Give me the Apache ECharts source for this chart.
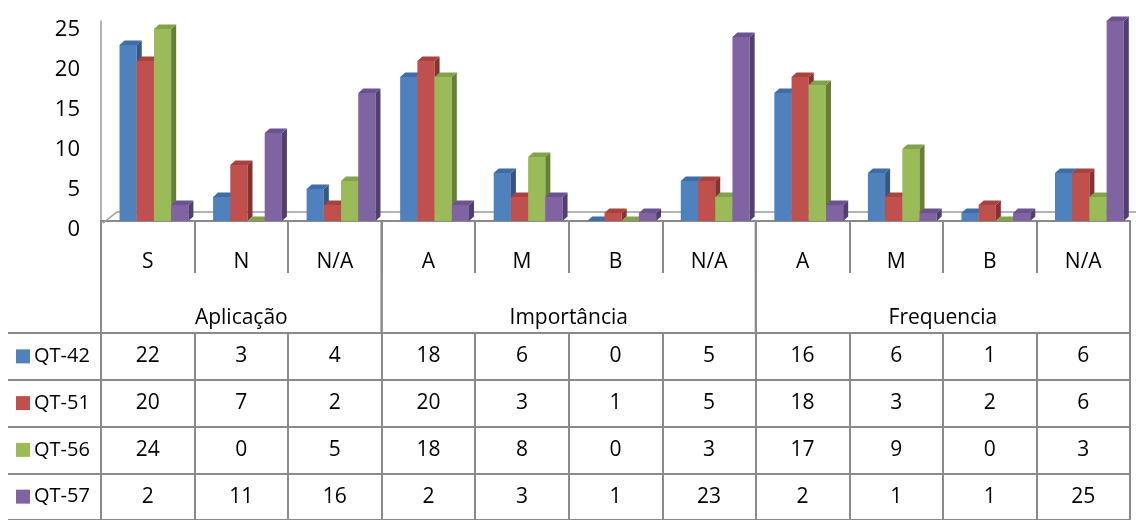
<!DOCTYPE html>
<html>
<head>
<meta charset="utf-8">
<script src="https://cdn.jsdelivr.net/npm/echarts@6/dist/echarts.min.js"></script>
<style>
html,body{margin:0;padding:0;background:#fff;}
#c{width:1136px;height:520px;}
</style>
</head>
<body>
<div id="c"></div>
<script>
// ---- data ----
const categories = ['S', 'N', 'N/A', 'A', 'M', 'B', 'N/A', 'A', 'M', 'B', 'N/A'];
const groupNames = ['Aplicação', 'Importância', 'Frequencia'];
const groupSizes = [3, 4, 4];
const seriesNames = ['QT-42', 'QT-51', 'QT-56', 'QT-57'];
const qt42 = [22, 3, 4, 18, 6, 0, 5, 16, 6, 1, 6];
const qt51 = [20, 7, 2, 20, 3, 1, 5, 18, 3, 2, 6];
const qt56 = [24, 0, 5, 18, 8, 0, 3, 17, 9, 0, 3];
const qt57 = [2, 11, 16, 2, 3, 1, 23, 2, 1, 1, 25];
const yTicks = [0, 5, 10, 15, 20, 25];

// ---- styling ----
const seriesValues = [qt42, qt51, qt56, qt57];
const front = ['#4F81BD', '#C0504D', '#9BBB59', '#8064A2'];
const topC = ['#3F6DA6', '#A8423F', '#83A24A', '#6B5290'];
const side = ['#345884', '#86332F', '#667F37', '#513F6F'];
const lineGray = '#8A8A8A';
const FONT = '"Open Sans", Lato, sans-serif';
const FS = 21;

const chart = echarts.init(document.getElementById('c'), null, {renderer: 'canvas'});

function barSeries(si) {
  return {
    type: 'custom',
    name: seriesNames[si],
    xAxisIndex: 0, yAxisIndex: 0,
    clip: false,
    data: seriesValues[si].map((v, i) => [i, v]),
    renderItem: function (params, api) {
      const idx = api.value(0);
      const val = api.value(1);
      const topP = api.coord([idx, val]);
      const baseP = api.coord([idx, 0]);
      const band = api.size([1, 0])[0];
      const w = band * 0.184;
      const left = topP[0] - band / 2 + band * 0.198 + si * w;
      const dx = 5, dy = 4.5;
      const t = topP[1], b = baseP[1];
      return {
        type: 'group',
        children: [
          {type: 'rect', shape: {x: left, y: t, width: w, height: b - t}, style: {fill: front[si]}},
          {type: 'polygon', shape: {points: [[left + w, t], [left + w + dx, t - dy], [left + w + dx, b - dy], [left + w, b]]}, style: {fill: side[si]}},
          {type: 'polygon', shape: {points: [[left, t], [left + dx, t - dy], [left + w + dx, t - dy], [left + w, t]]}, style: {fill: topC[si]}}
        ]
      };
    },
    z: 3
  };
}

// group starts built from sizes
const groupData = [];
let acc = 0;
groupSizes.forEach((s, g) => { groupData.push([acc, acc + s - 1, g]); acc += s; });

// table cells
const cellData = [];
seriesValues.forEach((arr, r) => arr.forEach((v, c) => cellData.push([c, r, v])));

const option = {
  animation: false,
  backgroundColor: '#ffffff',
  grid: [
    {left: 101, right: 6, top: 21, height: 200},
    {left: 101, right: 6, top: 333, height: 192}
  ],
  xAxis: [
    {
      gridIndex: 0, type: 'category', data: categories, boundaryGap: true,
      offset: 5,
      axisLine: {show: true, lineStyle: {color: lineGray, width: 2}},
      axisTick: {show: true, length: 52, lineStyle: {color: lineGray, width: 2}},
      axisLabel: {color: '#000', fontFamily: FONT, fontSize: FS, margin: 26}
    },
    {
      gridIndex: 1, type: 'category', data: categories, boundaryGap: true, position: 'top',
      axisLine: {show: true, lineStyle: {color: lineGray, width: 2}},
      axisTick: {show: false}, axisLabel: {show: false},
      splitLine: {show: true, lineStyle: {color: lineGray, width: 2}}
    }
  ],
  yAxis: [
    {
      gridIndex: 0, type: 'value', min: 0, max: 25, interval: 5,
      axisLine: {show: true, lineStyle: {color: '#9A9A9A', width: 1.5}},
      axisTick: {show: false},
      splitLine: {show: false},
      axisLabel: {color: '#000', fontFamily: FONT, fontSize: 22, margin: 21,
        verticalAlign: 'top', lineHeight: 18,
        formatter: v => (yTicks.indexOf(v) >= 0 ? String(v) : '')}
    },
    {
      gridIndex: 1, type: 'category', data: seriesNames, inverse: true, boundaryGap: true,
      axisLine: {show: true, lineStyle: {color: lineGray, width: 2}},
      axisTick: {show: true, length: 93, lineStyle: {color: lineGray, width: 2}},
      splitLine: {show: true, lineStyle: {color: lineGray, width: 2}},
      axisLabel: {
        align: 'left', margin: 85,
        formatter: (v, i) => '{k' + i + '|}{t|' + v + '}',
        rich: {
          k0: {backgroundColor: front[0], width: 14, height: 14},
          k1: {backgroundColor: front[1], width: 14, height: 14},
          k2: {backgroundColor: front[2], width: 14, height: 14},
          k3: {backgroundColor: front[3], width: 14, height: 14},
          t: {color: '#000', fontFamily: FONT, fontSize: 20, padding: [0, 0, 0, 4]}
        }
      }
    },
    {
      gridIndex: 1, type: 'category', data: seriesNames, offset: 93,
      axisLine: {show: true, lineStyle: {color: lineGray, width: 2}},
      axisTick: {show: false}, axisLabel: {show: false}, splitLine: {show: false}
    }
  ],
  series: [
    {
      type: 'custom', name: 'floor', xAxisIndex: 0, yAxisIndex: 0, clip: false,
      data: [[0, 0]],
      renderItem: function (params, api) {
        const band = api.size([1, 0])[0];
        const p0 = api.coord([0, 0]);
        const pN = api.coord([categories.length - 1, 0]);
        const x0 = p0[0] - band / 2;
        const xN = pN[0] + band / 2;
        const y0 = p0[1];
        return {
          type: 'polyline',
          shape: {points: [[x0 + 2, y0 + 2], [x0 + 16, y0 - 9], [xN + 6, y0 - 9]]},
          style: {stroke: '#9A9A9A', lineWidth: 1.5, fill: null}
        };
      },
      z: 1
    },
    barSeries(0), barSeries(1), barSeries(2), barSeries(3),
    {
      type: 'custom', name: 'groups', xAxisIndex: 0, yAxisIndex: 0, clip: false,
      data: groupData,
      renderItem: function (params, api) {
        const band = api.size([1, 0])[0];
        const s = api.value(0), e = api.value(1), g = api.value(2);
        const l = api.coord([s, 0])[0] - band / 2;
        const r = api.coord([e, 0])[0] + band / 2;
        const y0 = api.coord([s, 0])[1];
        return {
          type: 'group',
          children: [
            {type: 'line', shape: {x1: l, y1: y0, x2: l, y2: y0 + 112}, style: {stroke: lineGray, lineWidth: 2}},
            {type: 'line', shape: {x1: r, y1: y0, x2: r, y2: y0 + 112}, style: {stroke: lineGray, lineWidth: 2}},
            {type: 'text', style: {text: groupNames[g], x: (l + r) / 2, y: y0 + 97, align: 'center', verticalAlign: 'middle',
              fill: '#000', font: FS + 'px ' + FONT}}
          ]
        };
      },
      z: 2
    },
    {
      type: 'custom', name: 'table', xAxisIndex: 1, yAxisIndex: 1, clip: false,
      data: cellData,
      renderItem: function (params, api) {
        const p = api.coord([api.value(0), api.value(1)]);
        return {
          type: 'text',
          style: {text: String(api.value(2)), x: p[0], y: p[1], align: 'center', verticalAlign: 'middle',
            fill: '#000', font: FS + 'px ' + FONT}
        };
      },
      z: 2
    }
  ]
};
chart.setOption(option);
</script>
</body>
</html>
